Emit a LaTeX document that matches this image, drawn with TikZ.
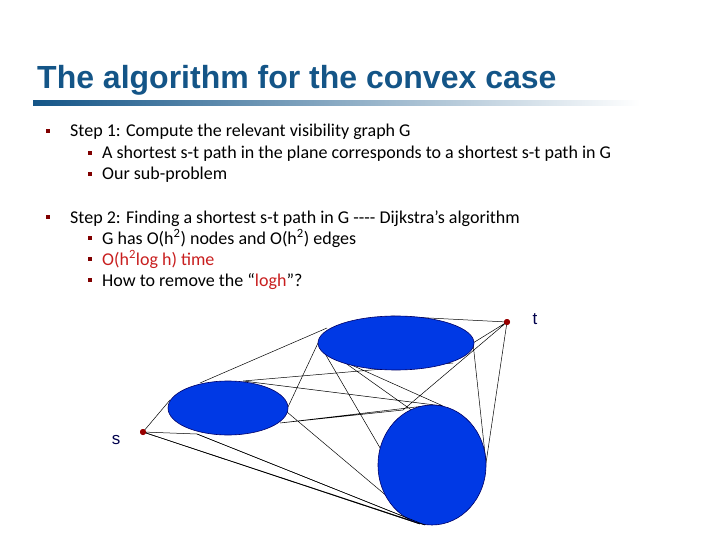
\documentclass[tikz,border=0pt]{standalone}
\usepackage{fontspec}
\setmainfont{Carlito}
\newfontfamily\titlefont{Liberation Sans}
\begin{document}
\begin{tikzpicture}[x=1pt,y=-1pt,
  bul/.style={fill=red!50!black,minimum size=4.5pt,inner sep=0pt},
  txt/.style={anchor=base west,inner sep=0pt,font=\fontsize{18}{20}\selectfont},
  obst/.style={fill=blue!75!cyan!90!black,draw=blue!40!black,line width=0.6pt},
  pt/.style={circle,fill=red!60!black,minimum size=6pt,inner sep=0pt},
  edge/.style={line width=0.5pt,black}]
\useasboundingbox (0,0) rectangle (720,540);
\definecolor{tblue}{RGB}{20,85,135}
\definecolor{tred}{RGB}{200,30,30}
\node[anchor=base west,inner sep=0pt,text=tblue,font=\titlefont\bfseries\fontsize{32}{36}\selectfont] (title) at (37,89) {The algorithm for the convex case};
\shade[left color=tblue,right color=white] (33,101) rectangle (640,106);
% text
\node[bul] (b1) at (48,131) {}; \node[txt] (t1) at (70,137) {Step 1: Compute the relevant visibility graph G};
\node[bul] (b2) at (90,153) {}; \node[txt] (t2) at (102,159) {A shortest s-t path in the plane corresponds to a shortest s-t path in G};
\node[bul] (b3) at (90,174) {}; \node[txt] (t3) at (102,180) {Our sub-problem};
\node[bul] (b4) at (48,217) {}; \node[txt] (t4) at (70,223) {Step 2: Finding a shortest s-t path in G {-}{-}{-}{-} Dijkstra’s algorithm};
\node[bul] (b5) at (90,238) {}; \node[txt] (t5) at (102,244) {G has O(h\textsuperscript{2}) nodes and O(h\textsuperscript{2}) edges};
\node[bul] (b6) at (90,259) {}; \node[txt,text=tred] (t6) at (102,265) {O(h\textsuperscript{2}log h) time};
\node[bul] (b7) at (90,280) {}; \node[txt] (t7) at (102,286) {How to remove the “\textcolor{tred}{logh}”?};
\coordinate (L1) at (170,400); \coordinate (L2) at (200,383);
\coordinate (T1) at (327,328); \coordinate (T2) at (390,316);
\coordinate (T3) at (473,343); \coordinate (R1) at (486,463);
\coordinate (L3) at (197,434); \coordinate (R2) at (433,405);
\coordinate (R3) at (403,410); \coordinate (L4) at (243,381);
\coordinate (T4) at (453,363); \coordinate (R4) at (443,406);
\coordinate (L5) at (288,407); \coordinate (T5) at (318,343);
\coordinate (L6) at (280,423); \coordinate (T6) at (320,345);
\coordinate (R5) at (425,525); \coordinate (R6) at (420,524);
\coordinate (L7) at (287,412); \coordinate (T7) at (347,363);
\node[pt] (s) at (143,432) {};
\node[pt] (t) at (507,322) {};
\draw[edge] (s.center)--(L1) (L2)--(T1) (T2)--(t.center) (T3)--(t.center)
  (s.center)--(L3) (L6)--(R2) (t.center)--(R1) (T3)--(R1) (t.center)--(R3)--(L6)
  (L4)--(T4) (L4)--(R4) (L5)--(T5) (T6)--(R5) (T6)--(R1)
  (s.center)--(R5) (s.center)--(R6) (L3)--(R5) (L7)--(R6) (T7)--(R4);
% obstacles
\draw[obst] (396,343) ellipse [x radius=78,y radius=27];
\draw[obst] (228,408) ellipse [x radius=60,y radius=27];
\draw[obst] (432,465) ellipse [x radius=54,y radius=60];
\draw[edge] (L3)--(R5) (s.center)--(R6);
\node[pt] at (s) {}; \node[pt] at (t) {};
\node[font=\titlefont\fontsize{17}{20}\selectfont,text=blue!30!black] (sl) at (116,440) {s};
\node[font=\titlefont\fontsize{17}{20}\selectfont,text=blue!30!black] (tl) at (535,319) {t};
\end{tikzpicture}
\end{document}
